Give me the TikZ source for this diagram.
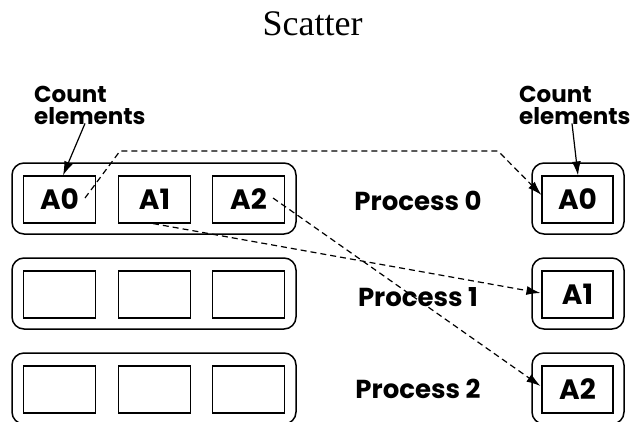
\documentclass[tikz,border=0pt]{standalone}
\usepackage{fontspec}
\setmainfont{Liberation Serif}
\newfontfamily\geofont{Poppins}
\usetikzlibrary{arrows.meta,calc}

\tikzset{
  x=1pt, y=-1pt,
  group/.style={draw, line width=1.5pt, rounded corners=12pt, minimum width=284pt,
    minimum height=71pt, inner sep=0pt},
  single/.style={draw, line width=1.5pt, rounded corners=12pt, minimum width=92pt,
    minimum height=71pt, inner sep=0pt},
  cell/.style={draw, line width=1.1pt, minimum width=72pt, minimum height=47pt,
    inner sep=0pt, font=\geofont\bfseries\fontsize{28}{30}\selectfont},
  proc/.style={anchor=base, inner sep=0pt, font=\geofont\bfseries\fontsize{26}{28}\selectfont},
  note/.style={align=left, inner sep=0pt, font=\geofont\bfseries\fontsize{23}{22}\selectfont},
  pointer/.style={line width=1.2pt, -{Latex[length=14pt,width=9pt]}},
  sendline/.style={line width=1.2pt, dash pattern=on 6pt off 4pt, -{Latex[length=14pt,width=9pt]}}
}

\begin{document}
\begin{tikzpicture}
\clip (0,0) rectangle (634,421);

% title
\node[anchor=base, inner sep=0pt, font=\fontsize{36}{40}\selectfont] (title) at (312.5,35) {Scatter};

% send buffers of the three processes
\foreach \r/\dy in {0/0, 1/95, 2/190} {
  \node[group] (row\r) at (154,198.5+\dy) {};
  \node[single] (box\r) at (578,198.5+\dy) {};
}
\node[cell] (la0) at (59.5,199.5) {A0};
\node[cell] (la1) at (154.5,199.5) {A1};
\node[cell] (la2) at (248.5,199.5) {A2};
\node[cell] (lb0) at (59.5,294.5) {};
\node[cell] (lb1) at (154.5,294.5) {};
\node[cell] (lb2) at (248.5,294.5) {};
\node[cell] (lc0) at (59.5,389.5) {};
\node[cell] (lc1) at (154.5,389.5) {};
\node[cell] (lc2) at (248.5,389.5) {};

% receive buffers
\node[cell, minimum width=71pt] (ra0) at (577.5,199.5) {A0};
\node[cell, minimum width=71pt] (ra1) at (577.5,294.5) {A1};
\node[cell, minimum width=71pt] (ra2) at (577.5,389.5) {A2};

% process names
\node[proc] (p0) at (418,210) {Process 0};
\node[proc] (p1) at (418,306) {Process 1};
\node[proc] (p2) at (418,398) {Process 2};

% annotations
\node[note, anchor=west] (cntL) at (34,105) {Count\\elements};
\node[note, anchor=west] (cntR) at (519,105) {Count\\elements};
\draw[pointer] ($(cntL.south west)+(51,-1)$) -- ($(la0.north)+(3.5,0)$);
\draw[pointer] ($(cntR.south west)+(53,-1)$) -- ($(ra0.north)+(0.5,0)$);

% data movement
\draw[sendline] ($(la0.center)+(25.5,-1.5)$) -- (120,151) -- (498,151) -- ($(ra0.west)+(0,-4.5)$);
\draw[sendline] ($(la1.south)+(-1.5,0)$) -- ($(ra1.west)+(-1,-1.5)$);
\draw[sendline] ($(la2.center)+(24.5,-1.5)$) -- ($(ra2.west)+(-1,-3.5)$);
\end{tikzpicture}
\end{document}
